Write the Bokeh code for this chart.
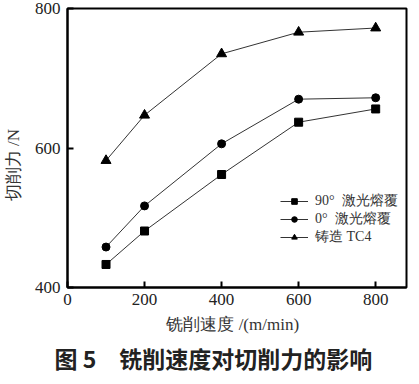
from bokeh.plotting import figure
from bokeh.models import Range1d, FixedTicker, Title, Legend
from bokeh.embed import file_html
from bokeh.resources import INLINE

speed = [100, 200, 400, 600, 800]
f_90 = [433, 481, 562, 637, 656]
f_0 = [458, 517, 606, 670, 672]
f_tc4 = [582, 647, 735, 766, 772]
x_ticks = [0, 200, 400, 600, 800]
y_ticks = [400, 600, 800]
labels = ["90°  激光熔覆", "0°  激光熔覆", "铸造 TC4"]
x_title = "铣削速度 /(m/min)"
y_title = "切削力 /N"
caption = "图 5　铣削速度对切削力的影响"

SERIF = "Liberation Serif"
NB = "\u00a0"

p = figure(width=411, height=376, output_backend="svg", toolbar_location=None,
           x_range=Range1d(0, 880), y_range=Range1d(400, 800),
           min_border_left=66, min_border_right=5, min_border_top=8, min_border_bottom=84)
p.background_fill_color = "white"
p.border_fill_color = "white"
p.grid.visible = False
p.outline_line_color = "black"
p.outline_line_width = 2

for ax in (p.xaxis[0], p.yaxis[0]):
    ax.axis_line_color = "black"
    ax.axis_line_width = 2
    ax.major_tick_in = 6
    ax.major_tick_out = 0
    ax.major_tick_line_width = 2
    ax.minor_tick_line_color = None
    ax.major_label_text_font = SERIF
    ax.major_label_text_font_size = "17px"
    ax.major_label_text_color = "#222222"
    ax.axis_label_text_font = SERIF
    ax.axis_label_text_font_size = "17px"
    ax.axis_label_text_font_style = "normal"
    ax.axis_label_text_color = "#333333"

p.xaxis.ticker = FixedTicker(ticks=x_ticks)
p.yaxis.ticker = FixedTicker(ticks=y_ticks)
p.xaxis.axis_label = x_title + NB * 2
p.yaxis.axis_label = y_title + NB * 8
p.xaxis.major_label_standoff = 6
p.yaxis.major_label_standoff = 7
p.xaxis.axis_label_standoff = 7
p.yaxis.axis_label_standoff = 9

items = []
for ys, mk, lab in [(f_90, "square", labels[0]), (f_0, "circle", labels[1]), (f_tc4, "triangle", labels[2])]:
    r1 = p.line(speed, ys, line_color="#333333", line_width=1)
    r2 = p.scatter(speed, ys, marker=mk, size=8 if mk != "triangle" else 10,
                   fill_color="black", line_color="black")
    items.append((lab, [r1, r2]))

leg = Legend(items=items, location=(213, 41), padding=0, margin=0, spacing=0,
             glyph_width=28, glyph_height=14, label_height=14, label_standoff=7,
             label_text_font=SERIF, label_text_font_size="14px",
             label_text_color="#333333", background_fill_alpha=0,
             border_line_color=None)
p.add_layout(leg, "center")

cap = Title(text=caption, align="left", standoff=4,
            text_font="Noto Sans CJK SC", text_font_size="23px",
            text_font_style="bold", text_color="#222222", offset=-13)
p.add_layout(cap, "below")

open("out.html", "w").write(file_html(p, INLINE))
